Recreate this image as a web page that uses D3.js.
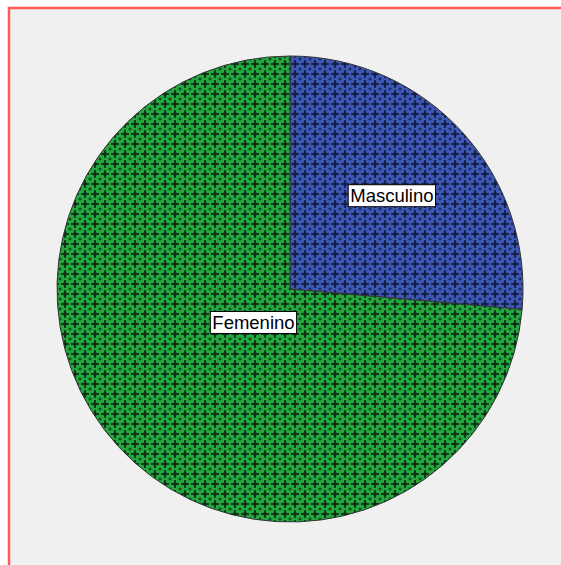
<!DOCTYPE html>
<html>
<head>
<meta charset="utf-8">
<script src="https://cdn.jsdelivr.net/npm/d3@7"></script>
<style>
  body { margin: 0; background: #ffffff; }
  svg { display: block; }
</style>
</head>
<body>
<svg id="chart" width="561" height="565"></svg>
<script>
// dados do gráfico de setores
var categorias = ["Masculino", "Femenino"];
var valores = [26.4, 73.6];
var cores = ["#3d58b4", "#22a83e"];

var svg = d3.select("#chart"),
    largura = +svg.attr("width"),
    altura = +svg.attr("height");

// fundo do painel com a borda vermelha
svg.append("rect")
    .attr("x", 9).attr("y", 8)
    .attr("width", largura + 10).attr("height", altura + 10)
    .attr("fill", "#f0f0f0")
    .attr("stroke", "#ff5a5a")
    .attr("stroke-width", 2.5);

// padroes de preenchimento
var defs = svg.append("defs");
var passo = 10;
cores.forEach(function(c, i) {
  var p = defs.append("pattern")
      .attr("id", "pad" + i)
      .attr("patternUnits", "userSpaceOnUse")
      .attr("width", passo).attr("height", passo);
  p.append("rect").attr("width", passo).attr("height", passo).attr("fill", c);
  var esc = "#0f2a14";
  if (i == 0) esc = "#121b40";
  // cruz escura
  p.append("rect").attr("x", 4).attr("y", 1).attr("width", 2).attr("height", 8).attr("fill", esc).attr("opacity", 0.85);
  p.append("rect").attr("x", 1).attr("y", 4).attr("width", 8).attr("height", 2).attr("fill", esc).attr("opacity", 0.85);
  p.append("rect").attr("x", 3.5).attr("y", 3.5).attr("width", 3).attr("height", 3).attr("fill", esc);
  // losangos nos cantos
  [[0, 0], [passo, 0], [0, passo], [passo, passo]].forEach(function(q) {
    p.append("path")
      .attr("d", "M" + (q[0] - 1.8) + "," + q[1] + "L" + q[0] + "," + (q[1] - 1.8) +
                 "L" + (q[0] + 1.8) + "," + q[1] + "L" + q[0] + "," + (q[1] + 1.8) + "Z")
      .attr("fill", esc).attr("opacity", 0.8);
  });
});

var cx = 290, cy = 289, raio = 233;

var pie = d3.pie().sort(null).value(function(d) { return d; });
var arco = d3.arc().innerRadius(0).outerRadius(raio);
var fatias = pie(valores);

var g = svg.append("g").attr("transform", "translate(" + cx + "," + cy + ")");

g.selectAll("path")
  .data(fatias)
  .enter().append("path")
    .attr("d", arco)
    .attr("fill", function(d, i) { return "url(#pad" + i + ")"; })
    .attr("stroke", "#333333")
    .attr("stroke-width", 1);

// rotulos no centroide de area de cada setor
var rotulos = g.selectAll("g.rot")
  .data(fatias)
  .enter().append("g")
    .attr("class", "rot")
    .attr("transform", function(d) {
      var th = d.endAngle - d.startAngle;
      var meio = (d.startAngle + d.endAngle) / 2;
      var rc = 2 * raio * Math.sin(th / 2) / (3 * th / 2);
      return "translate(" + (rc * Math.sin(meio)) + "," + (-rc * Math.cos(meio)) + ")";
    });

rotulos.append("text")
    .attr("text-anchor", "middle")
    .attr("dy", "0.36em")
    .style("font-family", "'Liberation Sans', Arial, sans-serif")
    .style("font-size", "18.5px")
    .attr("fill", "#000")
    .text(function(d, i) { return categorias[i]; });

rotulos.each(function() {
  var t = d3.select(this).select("text").node().getBBox();
  d3.select(this).insert("rect", "text")
      .attr("x", t.x - 2).attr("y", -11)
      .attr("width", t.width + 4).attr("height", 22)
      .attr("fill", "#ffffff")
      .attr("stroke", "#000")
      .attr("stroke-width", 1);
});
</script>
</body>
</html>
